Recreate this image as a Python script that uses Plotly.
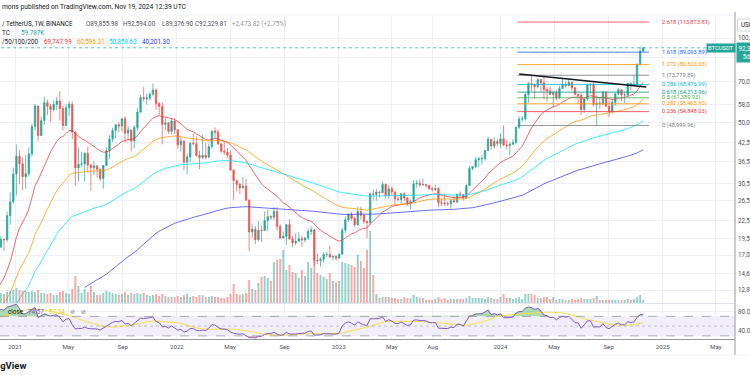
import numpy as np
import pandas as pd
import plotly.graph_objects as go

# ---------------- DATA ----------------
# Binance BTCUSDT weekly closes before the visible window (warm-up for MA / RSI)
pre_start = "2017-08-14"
pre_closes = [
    4090, 4340, 4600, 4230, 3700, 3650, 4340, 4610, 5700, 6000, 5750, 7350, 5850, 8000, 9400, 11500, 15000, 18900, 13800, 13700,
    16200, 13650, 11500, 11450, 8200, 8100, 10400, 9600, 11500, 9550, 8200, 8450, 6850, 7050, 8050, 8900, 9350, 9650, 8700, 8250,
    7350, 7700, 6800, 6500, 6150, 6400, 6750, 6350, 7400, 8200, 7000, 6300, 6400, 6700, 7300, 6300, 6500, 6700, 6600, 6600,
    6300, 6500, 6400, 6450, 6350, 5600, 3800, 4100, 3300, 3200, 4000, 3700, 4000,
    3550, 3600, 3550, 3450, 3650, 3650, 3850, 3800, 3900, 4000, 3950, 4100, 5050, 5100, 5300, 5250, 5750, 7050, 8150, 8700,
    8100, 7950, 8950, 10700, 10800, 11450, 10200, 10550, 9500, 10800, 11400, 10200, 10150, 9600, 10400, 10350, 10050, 8050, 8150, 8300,
    7950, 9250, 9200, 8800, 8500, 7050, 7400, 7500, 7100, 7500, 7300, 7750,
    8900, 8650, 8600, 9350, 10150, 9900, 9650, 8550, 8050, 5350, 5850, 5900, 6800, 6900, 7100, 7700, 8900, 8700, 9700, 8700,
    9450, 9650, 9350, 9300, 9000, 9100, 9250, 9200, 9950, 11100, 11550, 11850, 11650, 11700, 10250, 10300, 11100, 10750, 10650, 11300,
    11500, 13050, 13800, 15500, 16000, 18400,
]

start = "2020-11-23"  # first weekly candle of the chart window
opens = [
    18370, 18180, 19360, 19275, 23480, 26280,
    33000, 38150, 35830, 32260, 33090, 38890, 48580, 57410, 45140, 50970, 59000, 57350, 55820,
    58200, 59770, 56250, 49000, 56620, 58230, 46430, 34650, 35680, 35800, 39020, 35510, 34700,
    35290, 34260, 31780, 35400, 39850, 43800, 47050, 49300, 48800, 51750, 46000, 47250, 43200,
    48200, 54650, 61500, 60850, 61300, 63250, 65450, 58600, 57250, 49400, 50100, 46700, 50800,
    47300, 41850, 43100, 36300, 37900, 42400, 42200, 38350, 37700, 38400, 37800, 41250, 46850,
    46400, 42150, 39700, 39450, 38450, 34050, 31300, 30300, 29450, 29900, 26600, 20550, 21030,
    19300, 20850, 20800, 22580, 23300, 23180, 24300, 21520, 19550, 19830, 21830, 19420, 18800,
    19050, 19450, 19250, 19580, 20630, 20900, 16330, 16280, 16450, 17100, 17100, 16750, 16850,
    16600, 17130, 20880, 22700, 23750, 22950, 21800, 24300, 23550, 22400, 22150, 28000, 27950,
    28450, 28330, 30300, 27600, 29250, 28450, 26900, 26750, 28080, 27100, 25850, 26350, 30450,
    30600, 30150, 30250, 30080, 29300, 29050, 29300, 26100, 26000, 25870, 25840, 26530, 26250,
    27980, 27900, 27150, 29990, 34500, 35000, 37050, 37350, 37450, 39950, 43750, 41400, 43000,
    42300, 43950, 41750, 41580, 42050, 42600, 48300, 51650, 51700, 63100, 68950, 68400, 67200,
    71300, 69350, 65650, 64950, 63100, 64000, 61450, 66250, 68500, 67750, 69650, 66650, 63200,
    62700, 55850, 60800, 68150, 68250, 58150, 58700, 58400, 64250, 57300, 54850, 59200, 63350, 65600,
    62800, 62850, 69000, 67950, 68750, 80350, 89855.98,
]
highs = [
    19480, 19915, 19420, 24300, 28420, 34780,
    41950, 40100, 37850, 38530, 40950, 49700, 58350, 57530, 52640, 61840, 60600, 58400, 60200,
    61800, 64850, 57500, 58450, 59500, 59600, 46650, 40900, 39500, 39400, 41330, 35750, 36600,
    35300, 34600, 35400, 40900, 45300, 48150, 49400, 50500, 51900, 52900, 48850, 47400, 49200,
    56500, 62950, 67000, 63700, 64250, 69000, 66300, 59300, 59200, 51950, 50200, 52100, 52000,
    47600, 44500, 43500, 38900, 42650, 45850, 44750, 39850, 45400, 42600, 42350, 46900, 48200,
    47500, 42400, 42950, 40800, 40000, 34250, 31450, 30650, 32200, 31750, 26900, 21850, 21550,
    22500, 21650, 24300, 24650, 23650, 25200, 25200, 21900, 20600, 21850, 22800, 19950, 20350,
    20480, 19950, 19700, 21100, 21480, 21050, 17200, 16700, 17400, 17450, 18400, 17000, 16980,
    17200, 21250, 23350, 23950, 24250, 23300, 25250, 25250, 23900, 22600, 28400, 29000, 29200,
    28800, 31000, 30500, 30050, 29850, 28700, 27650, 28250, 28450, 27400, 26800, 31400, 31300,
    31550, 31800, 30350, 30100, 29750, 30250, 29650, 26850, 28150, 26400, 26900, 27500, 28050,
    28600, 28000, 30300, 35200, 35300, 37950, 37950, 38450, 40000, 44750, 43800, 44400, 43800,
    45900, 49000, 43580, 42850, 43880, 48600, 52800, 52950, 64000, 69990, 73777, 68950, 71770,
    71350, 72800, 66900, 67250, 64750, 65500, 67700, 71950, 70000, 72000, 70200, 66900, 63400,
    63850, 61450, 68350, 69400, 70000, 62750, 61800, 65050, 64950, 59800, 60650, 64150, 66500, 65650,
    64500, 69400, 69500, 73600, 81500, 93250, 92594.00,
]
lows = [
    16190, 18000, 17650, 19000, 21810, 25960,
    27730, 30420, 28850, 29240, 32300, 37990, 47000, 43000, 44950, 49150, 53270, 50430, 54900,
    55470, 51000, 47000, 48750, 53050, 43800, 30000, 31000, 34800, 31000, 33350, 28800, 32700,
    32080, 31100, 29280, 35200, 37300, 42800, 43950, 46350, 46500, 42800, 43400, 39600, 40750,
    46900, 54400, 59550, 58000, 60150, 62300, 55600, 53250, 42000, 47100, 45650, 45550, 45700,
    40500, 39650, 34000, 32900, 36250, 41700, 38000, 34300, 37200, 37150, 37550, 40500, 44200,
    41900, 39200, 38550, 37550, 33700, 26700, 28650, 28000, 29300, 26550, 17600, 19600, 18600,
    19000, 18900, 20800, 20700, 22650, 22650, 20800, 19500, 19500, 18500, 19300, 18150, 18450,
    19000, 18200, 18900, 19250, 20050, 15600, 15800, 15500, 16000, 16750, 16550, 16300, 16300,
    16550, 17100, 20400, 22300, 22500, 21350, 21550, 22750, 21950, 19550, 21800, 26600, 26550,
    27200, 28170, 27100, 26950, 27650, 25800, 26550, 25850, 26500, 25350, 24800, 26250, 29500,
    29700, 30000, 29500, 28850, 28600, 28700, 25150, 25350, 25350, 25350, 24900, 26100, 26000,
    27150, 26550, 26950, 29900, 33950, 34550, 34800, 35650, 36750, 39900, 40200, 40550, 41300,
    40750, 41500, 40300, 38550, 41800, 42250, 47700, 50520, 50900, 59000, 64550, 60750, 66400,
    64500, 60650, 59600, 62800, 56550, 60200, 60750, 66100, 66600, 67600, 65050, 62900, 58400,
    53500, 54250, 59900, 63450, 57150, 49000, 56100, 57800, 57200, 52550, 54600, 57500, 62700, 59800,
    58900, 62050, 65050, 67450, 66850, 80200, 89376.90,
]
closes = [
    18180, 19360, 19275, 23480, 26280, 33000,
    38150, 35830, 32260, 33090, 38890, 48580, 57410, 45140, 50970, 59000, 57350, 55820, 58200,
    59770, 56250, 49000, 56620, 58230, 46430, 34650, 35680, 35800, 39020, 35510, 34700, 35290,
    34260, 31780, 35400, 39850, 43800, 47050, 49300, 48800, 51750, 46000, 47250, 43200, 48200,
    54650, 61500, 60850, 61300, 63250, 65450, 58600, 57250, 49400, 50100, 46700, 50800, 47300,
    41850, 43100, 36300, 37900, 42400, 42200, 38350, 37700, 38400, 37800, 41250, 46850, 46400,
    42150, 39700, 39450, 38450, 34050, 31300, 30300, 29450, 29900, 26600, 20550, 21030, 19300,
    20850, 20800, 22580, 23300, 23180, 24300, 21520, 19550, 19830, 21830, 19420, 18800, 19050,
    19450, 19250, 19580, 20630, 20900, 16330, 16280, 16450, 17100, 17100, 16750, 16850, 16600,
    17130, 20880, 22700, 23750, 22950, 21800, 24300, 23550, 22400, 22150, 28000, 27950, 28450,
    28330, 30300, 27600, 29250, 28450, 26900, 26750, 28080, 27100, 25850, 26350, 30450, 30600,
    30150, 30250, 30080, 29300, 29050, 29300, 26100, 26000, 25870, 25840, 26530, 26250, 27980,
    27900, 27150, 29990, 34500, 35000, 37050, 37350, 37450, 39950, 43750, 41400, 43000, 42300,
    43950, 41750, 41580, 42050, 42600, 48300, 51650, 51700, 63100, 68950, 68400, 67200, 71300,
    69350, 65650, 64950, 63100, 64000, 61450, 66250, 68500, 67750, 69650, 66650, 63200, 62700,
    55850, 60800, 68150, 68250, 58150, 58700, 58400, 64250, 57300, 54850, 59200, 63350, 65600, 62800,
    62850, 69000, 67950, 68750, 80350, 89850, 92329.81,
]
volumes_k = [
    220, 200, 180, 220, 240, 260,
    300, 260, 240, 240, 220, 240, 220, 260, 200, 200, 180, 200, 160,
    160, 220, 240, 200, 180, 280, 540, 340, 200, 280, 220, 340, 220,
    160, 160, 200, 240, 220, 200, 180, 160, 180, 220, 160, 200, 180,
    200, 180, 200, 160, 140, 160, 180, 140, 180, 140, 120, 120, 120,
    140, 120, 160, 180, 120, 140, 120, 160, 160, 120, 120, 140, 120,
    120, 100, 100, 120, 180, 380, 180, 160, 180, 200, 460, 280, 260,
    400, 520, 540, 500, 440, 820, 860, 880, 1060, 660, 760, 620, 600,
    500, 660, 540, 820, 700, 860, 600, 560, 520, 480, 600, 440, 420,
    440, 820, 800, 780, 760, 720, 960, 840, 700, 1060, 1440, 560, 180,
    100, 120, 120, 120, 100, 100, 80, 80, 120, 100, 100, 160, 120,
    100, 100, 60, 60, 60, 80, 120, 80, 100, 60, 80, 80, 80,
    80, 80, 100, 140, 100, 100, 100, 100, 80, 120, 100, 80, 80,
    120, 180, 100, 100, 80, 100, 120, 80, 180, 180, 180, 160, 100,
    100, 120, 120, 80, 120, 60, 80, 80, 60, 60, 80, 60, 80,
    100, 80, 80, 80, 100, 140, 60, 60, 60, 60, 60, 60, 60, 60,
    60, 80, 60, 80, 120, 160, 59.787,
]

ma_periods = [20, 50, 100, 200]
ma_colors = ["rgba(242,54,69,0.75)", "rgba(255,152,0,0.75)", "rgba(0,229,255,0.75)", "rgba(60,60,240,0.75)"]
ma_label_colors = ["#F23645", "#FF9800", "#00D5EE", "#3333EE"]
ma_values_text = ["69,747.99", "60,596.31", "50,858.63", "40,201.30"]

fib_ratios = ["2.618", "1.618", "1.272", "1", "0.786", "0.618", "0.5", "0.382", "0.236", "0"]
fib_prices = [113873.81, 89093.89, 80520.03, 73779.89, 68476.99, 64313.96, 61389.93, 58465.90, 54848.03, 48999.96]
fib_colors = ["#F23645", "#2962FF", "#FF9800", "#787B86", "#00BCD4", "#089981", "#4CAF50", "#FF9800", "#F23645", "#787B86"]
fib_span = ["2024-02-08", "2024-12-01"]

trend_dates = ["2024-02-12", "2024-11-25"]
trend_prices = [74550, 67080]

price_ticks = [12800, 14600, 17000, 19500, 22500, 26500, 30500, 36500, 42500, 50000, 58000, 70000, 85000, 100000]
time_ticks = ["2021-01-01", "2021-05-01", "2021-09-01", "2022-01-01", "2022-05-01", "2022-09-01",
              "2023-01-01", "2023-05-01", "2023-08-01", "2024-01-01", "2024-05-01", "2024-09-01",
              "2025-01-01", "2025-05-01"]
time_labels = ["2021", "May", "Sep", "2022", "May", "Sep", "2023", "May", "Aug", "2024", "May", "Sep", "2025", "May"]
x_range = ["2020-11-28", "2025-06-13"]

# ---------------- DERIVED ----------------
dates = pd.date_range(start, periods=len(closes), freq="7D")
all_dates = pd.date_range(pre_start, periods=len(pre_closes) + len(closes), freq="7D")
all_close = pd.Series(pre_closes + closes, index=all_dates, dtype=float)


def ema(series, n):
    vals = series.values
    out = np.full(len(vals), np.nan)
    if len(vals) < n:
        return out
    a = 2.0 / (n + 1)
    out[n - 1] = vals[:n].mean()
    for i in range(n, len(vals)):
        out[i] = a * vals[i] + (1 - a) * out[i - 1]
    return out


delta = all_close.diff()
gain = delta.clip(lower=0)
loss = -delta.clip(upper=0)
avg_g = gain.ewm(alpha=1 / 14, adjust=False).mean()
avg_l = loss.ewm(alpha=1 / 14, adjust=False).mean()
rsi = 100 - 100 / (1 + avg_g / avg_l)
rsi_ma = rsi.rolling(14).mean()

UP = "#26a69a"
DN = "#ef5350"
W, H = 750, 375
FONT = "Roboto"
GRID = "#eef0f5"
AXIS_TXT = "#50535e"


def px(x):
    return x / W


def py(y):
    return (H - y) / H


fig = go.Figure()

# volume
vol_colors = ["rgba(38,166,154,0.5)" if c >= o else "rgba(239,83,80,0.5)" for o, c in zip(opens, closes)]
fig.add_trace(go.Bar(x=dates, y=volumes_k, marker=dict(color=vol_colors, line=dict(width=0)),
                     width=7 * 24 * 3600 * 1000 * 0.62, xaxis="x", yaxis="y2", hoverinfo="skip", showlegend=False))

# candles
fig.add_trace(go.Candlestick(
    x=dates, open=opens, high=highs, low=lows, close=closes,
    increasing=dict(line=dict(color=UP, width=0.7), fillcolor=UP),
    decreasing=dict(line=dict(color=DN, width=0.7), fillcolor=DN),
    whiskerwidth=0, xaxis="x", yaxis="y", hoverinfo="skip", showlegend=False))

# moving averages (exponential, TradingView MA ribbon)
for p, col in zip(ma_periods, ma_colors):
    fig.add_trace(go.Scatter(x=all_dates, y=ema(all_close, p), mode="lines", line=dict(color=col, width=1),
                             xaxis="x", yaxis="y", hoverinfo="skip", showlegend=False))

# current price line
fig.add_trace(go.Scatter(x=[all_dates[0], "2026-01-01"], y=[closes[-1], closes[-1]], mode="lines",
                         line=dict(color="rgba(38,166,154,0.7)", width=1, dash="dot"),
                         xaxis="x", yaxis="y", hoverinfo="skip", showlegend=False))

# fib retracement
for r, v, c in zip(fib_ratios, fib_prices, fib_colors):
    fig.add_trace(go.Scatter(x=fib_span, y=[v, v], mode="lines", line=dict(color=c, width=1),
                             opacity=0.8, xaxis="x", yaxis="y", hoverinfo="skip", showlegend=False))
    fig.add_annotation(x=px(660), xref="paper", y=np.log10(v), yref="y", xanchor="left", yanchor="middle",
                       text=f"{r} ({v:,.2f})", showarrow=False, font=dict(family=FONT, size=5.7, color=c))

# trend line
fig.add_trace(go.Scatter(x=trend_dates, y=trend_prices, mode="lines", line=dict(color="#131722", width=1.5),
                         xaxis="x", yaxis="y", hoverinfo="skip", showlegend=False))

# RSI pane
rsi_x = all_dates
fig.add_trace(go.Scatter(x=rsi_x, y=[70] * len(rsi_x), mode="lines", line=dict(width=0),
                         xaxis="x2", yaxis="y3", hoverinfo="skip", showlegend=False))
fig.add_trace(go.Scatter(x=rsi_x, y=np.maximum(rsi.values, 70), mode="lines", line=dict(width=0),
                         fill="tonexty", fillcolor="rgba(76,175,80,0.45)",
                         xaxis="x2", yaxis="y3", hoverinfo="skip", showlegend=False))
fig.add_trace(go.Scatter(x=rsi_x, y=[30] * len(rsi_x), mode="lines", line=dict(width=0),
                         xaxis="x2", yaxis="y3", hoverinfo="skip", showlegend=False))
fig.add_trace(go.Scatter(x=rsi_x, y=np.minimum(rsi.values, 30), mode="lines", line=dict(width=0),
                         fill="tonexty", fillcolor="rgba(242,54,69,0.35)",
                         xaxis="x2", yaxis="y3", hoverinfo="skip", showlegend=False))
fig.add_trace(go.Scatter(x=rsi_x, y=rsi_ma, mode="lines", line=dict(color="#F5DF4D", width=1),
                         xaxis="x2", yaxis="y3", hoverinfo="skip", showlegend=False))
fig.add_trace(go.Scatter(x=rsi_x, y=rsi, mode="lines", line=dict(color="#7E57C2", width=1),
                         xaxis="x2", yaxis="y3", hoverinfo="skip", showlegend=False))

shapes = []
shapes.append(dict(type="rect", xref="paper", yref="y3", x0=0, x1=px(735), y0=30, y1=70,
                   fillcolor="rgba(126,87,194,0.1)", line=dict(width=0), layer="below"))
for lvl, dash, col in [(70, "dash", "rgba(120,123,134,0.6)"), (30, "dash", "rgba(120,123,134,0.6)"),
                       (50, "dot", "rgba(120,123,134,0.4)")]:
    shapes.append(dict(type="line", xref="paper", yref="y3", x0=0, x1=px(735), y0=lvl, y1=lvl,
                       line=dict(color=col, width=1, dash=dash)))
shapes.append(dict(type="line", xref="paper", yref="paper", x0=0, x1=px(735), y0=py(15), y1=py(15),
                   line=dict(color=GRID, width=1)))
shapes.append(dict(type="line", xref="paper", yref="paper", x0=0, x1=px(735), y0=py(303.5), y1=py(303.5),
                   line=dict(color="#e0e3eb", width=1)))
shapes.append(dict(type="line", xref="paper", yref="paper", x0=px(735), x1=px(735), y0=py(355), y1=py(12),
                   line=dict(color="#9598a1", width=1)))
shapes.append(dict(type="line", xref="paper", yref="paper", x0=0, x1=px(735), y0=py(339.5), y1=py(339.5),
                   line=dict(color="#9598a1", width=1)))
shapes.append(dict(type="line", xref="paper", yref="paper", x0=0, x1=1, y0=py(355), y1=py(355),
                   line=dict(color="#eef0f5", width=1)))
# currency button frame (top right)
shapes.append(dict(type="rect", xref="paper", yref="paper", x0=px(737.5), x1=px(752), y0=py(31), y1=py(19),
                   line=dict(color="#d1d4dc", width=1), fillcolor="white"))
fig.update_layout(shapes=shapes)


def ann(x, y, text, size=6.5, color=AXIS_TXT, anchor="left", **kw):
    fig.add_annotation(x=px(x), y=py(y), xref="paper", yref="paper", xanchor=anchor, yanchor="middle",
                       text=text, showarrow=False, font=dict(family=FONT, size=size, color=color), **kw)


ann(0, 7, "mons published on TradingView.com, Nov 19, 2024 12:39 UTC", size=6.7, color="#131722")
ann(0, 24, "/ TetherUS, 1W, BINANCE", size=6.3, color="#131722")
ann(84, 24, "O89,855.98", size=6.3)
ann(121, 24, "H92,594.00", size=6.3)
ann(160, 24, "L89,376.90", size=6.3)
ann(193, 24, "C92,329.81", size=6.3)
ann(230, 24, "+2,473.82 (+2.75%)", size=6.3, color="#9598a1")
ann(0, 33, "TC", size=6.3, color="#131722")
ann(19, 33, "59.787K", size=6.3, color=UP)
ann(0, 42, "/50/100/200", size=6.3, color="#131722")
for xx, t, c in zip([42, 75, 107, 140], ma_values_text, ma_label_colors):
    ann(xx, 42, t, size=6.3, color=c)

ann(6, 311.5, "close", size=6.3, color="#131722")
ann(26, 311.5, "74.57", size=6.3, color="#7E57C2")
ann(47, 311.5, "57.34", size=6.3, color="#E8C90A")
ann(68, 311.5, "⊘", size=6.3, color="#787b86")
ann(79, 311.5, "⊘", size=6.3, color="#787b86")

ann(706, 48, "BTCUSDT", size=5.8, color="white", bgcolor=UP, borderpad=1)
ann(736, 52, "92,329.81<br>5d 11h", size=6.3, color="white", bgcolor=UP, borderpad=1.5)
ann(739, 25, "USDT", size=6.3, color="#131722")

ann(28, 365, "<b>TradingView</b>", size=9.5, color="#131722", anchor="right")

log_lo = np.log10(100000 * np.exp(-(303 - 38) / 122.6))
log_hi = np.log10(100000 * np.exp((38 - 15) / 122.6))

fig.update_layout(
    width=W, height=H, margin=dict(l=0, r=0, t=0, b=0, autoexpand=False),
    paper_bgcolor="white", plot_bgcolor="white",
    showlegend=False, boxgap=0.35,
    xaxis=dict(domain=[0, px(735)], anchor="y", type="date", range=x_range, rangeslider=dict(visible=False),
               tickvals=time_ticks, showticklabels=False, showgrid=True, gridcolor=GRID, gridwidth=1,
               zeroline=False, showline=False, ticks="", automargin=False),
    xaxis2=dict(domain=[0, px(735)], anchor="y3", type="date", matches="x", range=x_range,
                tickvals=time_ticks, ticktext=time_labels, showticklabels=True, showgrid=True,
                gridcolor=GRID, gridwidth=1, zeroline=False, showline=False, ticks="", automargin=False,
                tickfont=dict(family=FONT, size=6.2, color=AXIS_TXT), ticklabelstandoff=3),
    yaxis=dict(domain=[py(303), py(15)], anchor="x", type="log", range=[log_lo, log_hi], side="right",
               tickvals=price_ticks, ticktext=[f"{v:,.2f}" for v in price_ticks],
               showgrid=True, gridcolor=GRID, gridwidth=1, zeroline=False, showline=False, ticks="",
               tickfont=dict(family=FONT, size=6.3, color=AXIS_TXT), ticklabelstandoff=2, automargin=False),
    yaxis2=dict(overlaying="y", anchor="x", range=[0, 288 * 20], visible=False, showgrid=False),
    yaxis3=dict(domain=[py(339), py(303)], anchor="x2", range=[23.6, 97.4], side="right",
                tickvals=[40, 80], ticktext=["40.00", "80.00"], showgrid=True, gridcolor=GRID,
                zeroline=False, showline=False, ticks="", automargin=False,
                tickfont=dict(family=FONT, size=6.3, color=AXIS_TXT), ticklabelstandoff=2),
)

fig.write_html("out.html", config={"displayModeBar": False},
               post_script="document.body.style.margin='0';document.body.style.overflow='hidden';")
